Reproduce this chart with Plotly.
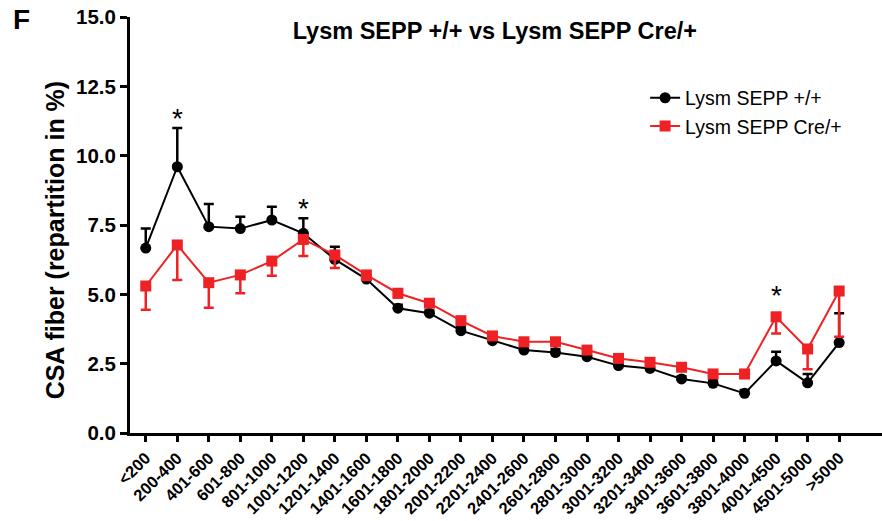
import plotly.graph_objects as go

# Fiber cross-sectional area bins (µm²)
categories = ["<200", "200-400", "401-600", "601-800", "801-1000", "1001-1200",
              "1201-1400", "1401-1600", "1601-1800", "1801-2000", "2001-2200",
              "2201-2400", "2401-2600", "2601-2800", "2801-3000", "3001-3200",
              "3201-3400", "3401-3600", "3601-3800", "3801-4000", "4001-4500",
              "4501-5000", ">5000"]

# Mean repartition (%) per bin
wt_mean = [6.67, 9.60, 7.44, 7.37, 7.68, 7.20, 6.26, 5.55, 4.50, 4.32, 3.69,
           3.33, 2.99, 2.90, 2.75, 2.43, 2.33, 1.95, 1.79, 1.43, 2.60, 1.81, 3.26]
cre_mean = [5.30, 6.78, 5.42, 5.70, 6.20, 6.98, 6.42, 5.70, 5.04, 4.68, 4.05,
            3.50, 3.29, 3.29, 2.99, 2.69, 2.55, 2.37, 2.13, 2.13, 4.19, 3.03, 5.12]

# SEM per bin (drawn upward for +/+, downward for Cre/+)
wt_sem = [0.70, 1.40, 0.82, 0.43, 0.48, 0.54, 0.46, 0.15, 0.12, 0.10, 0.12,
          0.12, 0.15, 0.12, 0.12, 0.10, 0.12, 0.10, 0.10, 0.12, 0.33, 0.32, 1.06]
cre_sem = [0.86, 1.26, 0.90, 0.66, 0.53, 0.60, 0.47, 0.18, 0.15, 0.12, 0.12,
           0.12, 0.15, 0.15, 0.12, 0.12, 0.12, 0.12, 0.12, 0.15, 0.60, 0.73, 1.65]

# Bins with a significant difference
signif_idx = [1, 5, 20]

FONT = "Arial, Liberation Sans, sans-serif"
x = list(range(len(categories)))

fig = go.Figure()
fig.add_trace(go.Scatter(
    x=x, y=wt_mean, mode="lines+markers", name="Lysm SEPP +/+",
    line=dict(color="black", width=2),
    marker=dict(symbol="circle", size=11, color="black"),
    error_y=dict(type="data", symmetric=False, array=wt_sem,
                 arrayminus=[0] * len(wt_sem), color="black",
                 thickness=2.5, width=5),
))
fig.add_trace(go.Scatter(
    x=x, y=cre_mean, mode="lines+markers", name="Lysm SEPP Cre/+",
    line=dict(color="#ee2224", width=2),
    marker=dict(symbol="square", size=11, color="#ee2224"),
    error_y=dict(type="data", symmetric=False, array=[0] * len(cre_sem),
                 arrayminus=cre_sem, color="#ee2224",
                 thickness=2.5, width=5),
))

# Significance stars sit above the highest mark of each flagged bin
for i in signif_idx:
    wt_top = wt_mean[i] + wt_sem[i]
    top = max(wt_top, cre_mean[i])
    lift = -8 if wt_top >= cre_mean[i] else 4
    fig.add_annotation(x=i, y=top, text="*", showarrow=False,
                       yanchor="bottom", yshift=lift,
                       font=dict(family=FONT, size=28, color="black"))

# Panel letter
fig.add_annotation(xref="paper", yref="paper", x=-0.158, y=0.993,
                   xanchor="left", yanchor="middle", text="<b>F</b>",
                   showarrow=False,
                   font=dict(family=FONT, size=28, color="black"))

# Y-axis title
fig.add_annotation(xref="paper", yref="paper", x=-0.1, y=0.465,
                   xanchor="center", yanchor="middle", textangle=-90,
                   text="<b>CSA fiber (repartition in %)</b>", showarrow=False,
                   font=dict(family=FONT, size=25, color="black"))

fig.update_layout(
    width=882, height=521,
    margin=dict(l=130, r=0, t=17, b=88),
    plot_bgcolor="white", paper_bgcolor="white",
    title=dict(text="<b>Lysm SEPP +/+ vs Lysm SEPP Cre/+</b>",
               x=0.561, xanchor="center", y=0.94, yanchor="middle",
               font=dict(family=FONT, size=23.5, color="black")),
    legend=dict(x=0.685, y=0.852, xanchor="left", yanchor="top",
                bgcolor="rgba(0,0,0,0)",
                font=dict(family=FONT, size=19.5, color="black"),
                itemwidth=30),
    showlegend=True,
)

fig.update_xaxes(
    range=[-0.5, 23.36], tickmode="array", tickvals=x, ticktext=categories,
    tickangle=-45, showline=True, linecolor="black", linewidth=3,
    ticks="outside", ticklen=6, tickwidth=2.5, tickcolor="black",
    showgrid=False, zeroline=False, automargin=False,
    tickfont=dict(family=FONT, size=16.5, color="black", weight="bold"),
)
fig.update_yaxes(
    range=[0, 15], tickmode="linear", tick0=0, dtick=2.5, tickformat=".1f",
    showline=True, linecolor="black", linewidth=3,
    ticks="outside", ticklen=7, tickwidth=2.5, tickcolor="black",
    showgrid=False, zeroline=False, automargin=False,
    tickfont=dict(family=FONT, size=20.5, color="black", weight="bold"),
)

fig.write_html("out.html")
